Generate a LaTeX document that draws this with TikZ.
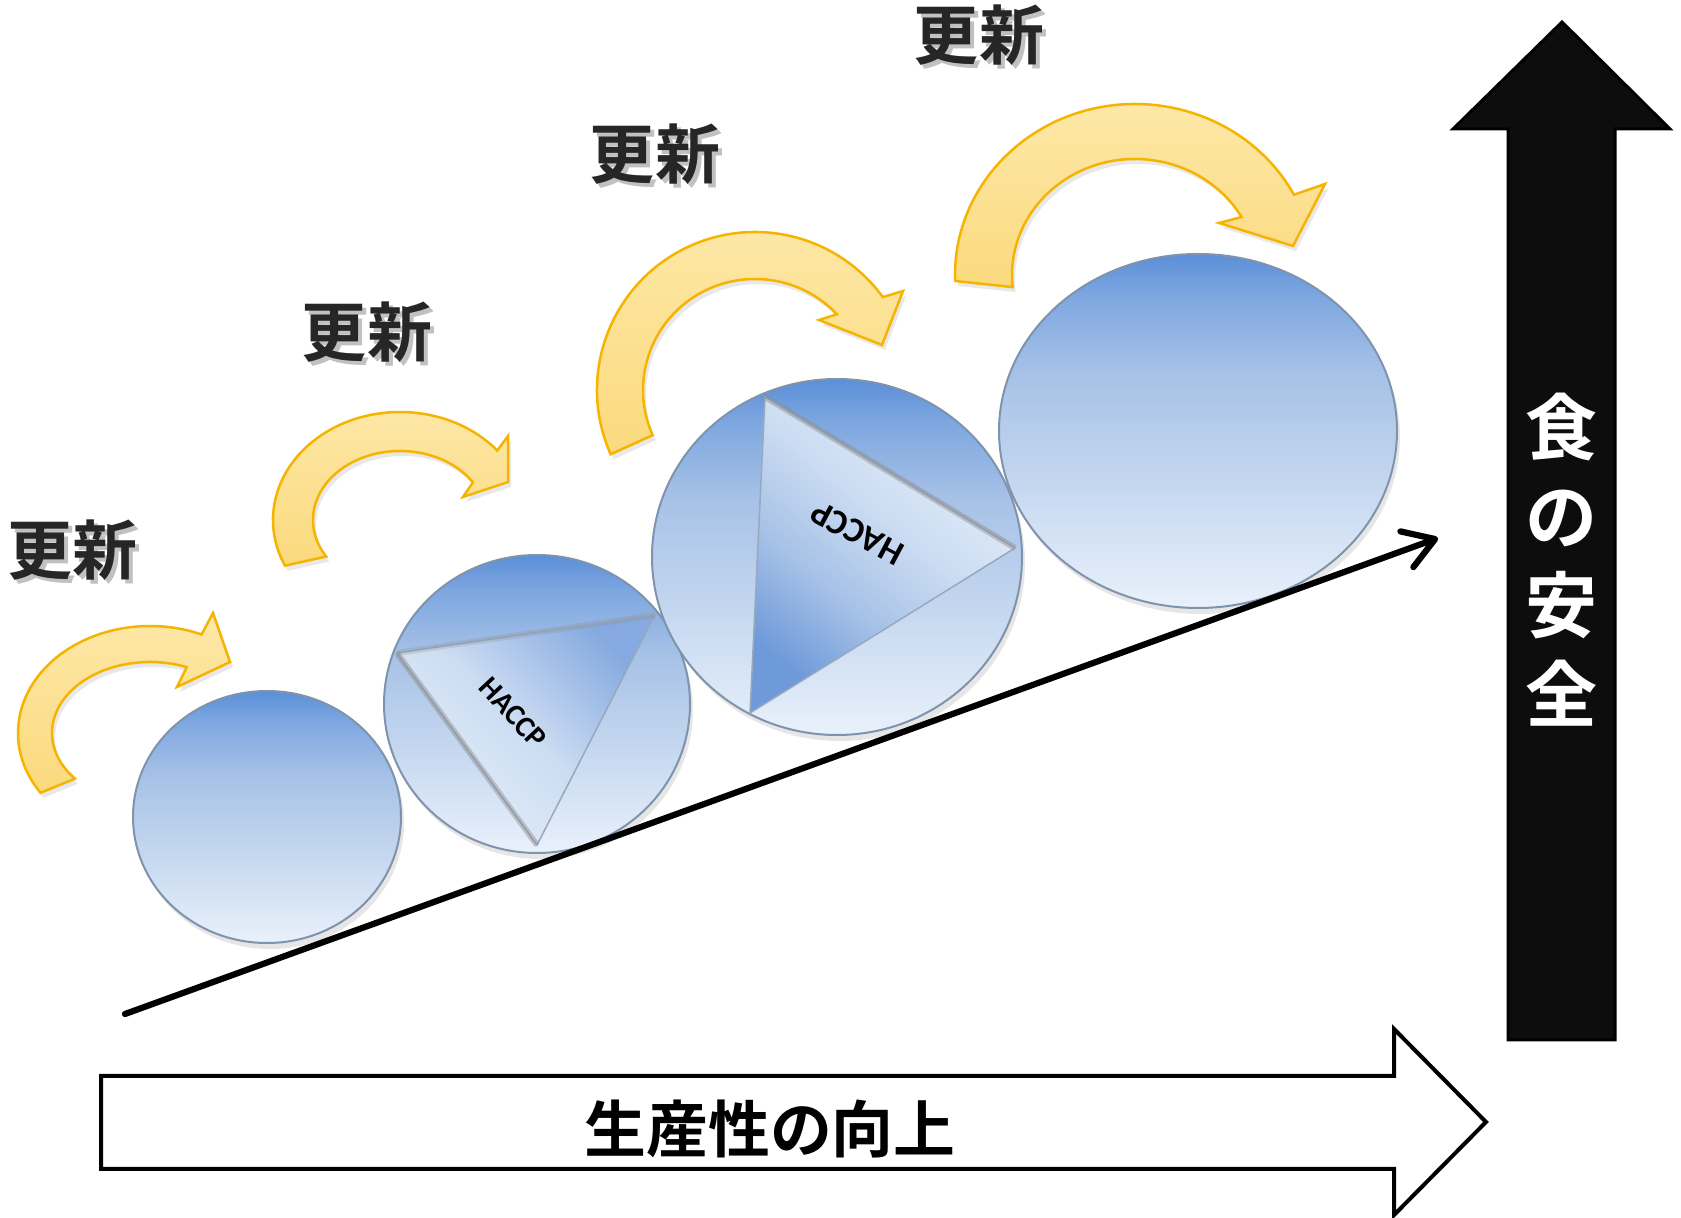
\documentclass[tikz,border=0pt]{standalone}
\usepackage{fontspec}
\newfontfamily\jp[BoldFont={Noto Sans CJK JP Bold}]{Noto Sans CJK JP}
\newfontfamily\lat{Carlito}
\usetikzlibrary{arrows.meta,shadows,calc}
\definecolor{arrowedge}{HTML}{F5B400}
\definecolor{arrowtop}{HTML}{FDE8A8}
\definecolor{arrowbot}{HTML}{FBDA7E}
\definecolor{bubA}{HTML}{5B8FD8}
\definecolor{bubB}{HTML}{7EA7E0}
\definecolor{bubC}{HTML}{A7C2E7}
\definecolor{bubD}{HTML}{C6D8F0}
\definecolor{bubE}{HTML}{E9F1FB}
\definecolor{bubedge}{HTML}{7F93AC}
\definecolor{trilight}{HTML}{E6EFFA}
\definecolor{trimid}{HTML}{CBDCF2}
\definecolor{tridark}{HTML}{6F9ADA}
\definecolor{blk}{HTML}{0D0D0D}
\definecolor{lbl}{HTML}{262626}
\pgfdeclareverticalshading{bubshade}{100bp}{color(0bp)=(bubE); color(25bp)=(bubE); color(42bp)=(bubD); color(58bp)=(bubC); color(69bp)=(bubB); color(75bp)=(bubA); color(100bp)=(bubA)}
\pgfdeclareverticalshading{trithree}{100bp}{color(0bp)=(tridark); color(25bp)=(tridark); color(40bp)=(bubC); color(55bp)=(trimid); color(75bp)=(trilight); color(100bp)=(trilight)}
\begin{document}
\begin{tikzpicture}[x=0.1mm,y=-0.1mm,
  yarrow/.style={draw=arrowedge, line width=0.25mm, line join=miter,
    top color=arrowtop, bottom color=arrowbot,
    drop shadow={shadow xshift=0.3mm, shadow yshift=-0.5mm, opacity=0.18}},
  bubble/.style={draw=bubedge, line width=0.2mm, shading=bubshade,
    drop shadow={shadow xshift=0.3mm, shadow yshift=-0.6mm, opacity=0.2}},
  tri/.style={draw=bubedge!80, line width=0.15mm},
  trishade/.style={line width=0.6mm, draw=black!45, opacity=0.45},
  upd/.style={font=\jp\bfseries\fontsize{18.5pt}{20pt}\selectfont, text=lbl, inner sep=0pt},
  updsh/.style={font=\jp\bfseries\fontsize{18.5pt}{20pt}\selectfont, text=black!35, inner sep=0pt, opacity=0.7},
  haccp/.style={font=\lat\bfseries\fontsize{8.5pt}{9pt}\selectfont, text=black, inner sep=0pt}
]
\useasboundingbox (0,0) rectangle (1681,1218);

% yellow curved arrows (elliptic bands with heads)
\coordinate (c1) at (150,733);
\path[yarrow] ($(c1)+(146:132 and 107)$) arc[start angle=146, end angle=293, x radius=132, y radius=107]
  -- (213,613) -- (230,662) -- (177,687) -- ($(c1)+(292:98 and 71)$)
  arc[start angle=292, end angle=140, x radius=98, y radius=71] -- cycle;
\coordinate (c2) at (400,520);
\path[yarrow] ($(c2)+(155:127 and 108)$) arc[start angle=155, end angle=320, x radius=127, y radius=108]
  -- (508,436) -- (508,482) -- (463,497) -- ($(c2)+(327:87 and 69)$)
  arc[start angle=327, end angle=148, x radius=87, y radius=69] -- cycle;
\coordinate (c3) at (755,390);
\path[yarrow] ($(c3)+(156:158 and 158)$) arc[start angle=156, end angle=324, x radius=158, y radius=158]
  -- (903,291) -- (882,345) -- (819,320) -- ($(c3)+(317:112 and 111)$)
  arc[start angle=317, end angle=156, x radius=112, y radius=111] -- cycle;
\coordinate (c4) at (1135,275);
\path[yarrow] ($(c4)+(178:180 and 171)$) arc[start angle=178, end angle=332, x radius=180, y radius=171]
  -- (1325,184) -- (1293,246) -- (1219,223) -- ($(c4)+(330:123 and 116)$)
  arc[start angle=330, end angle=174, x radius=123, y radius=116] -- cycle;

% bubbles
\path[bubble] (267,817) ellipse [x radius=134, y radius=126];
\path[bubble] (537,704) ellipse [x radius=153, y radius=149];
\path[bubble] (837,557) ellipse [x radius=185, y radius=178];
\path[bubble] (1198,431) ellipse [x radius=199, y radius=177];

% triangles
\path[tri, top color=tridark!85, bottom color=trilight, middle color=trimid, shading angle=-45] (397,653) -- (655,615) -- (537,845) -- cycle;
\draw[trishade] (397,653) -- (537,845);
\draw[trishade, opacity=0.25] (397,653) -- (655,615);
\node[haccp, rotate=-47] (h1) at (513,713) {HACCP};

\path[tri, shading=trithree, shading angle=-40] (765,397) -- (1015,548) -- (750,713) -- cycle;
\draw[trishade] (765,397) -- (1015,548);
\node[haccp, font=\lat\bfseries\fontsize{10pt}{11pt}\selectfont, rotate=152] (h2) at (857,533) {HACCP};

% rising line
\coordinate (ls) at (125,1014);
\coordinate (le) at (1438,538);
\draw[line width=0.62mm, line cap=round, -{Straight Barb[length=3mm, width=3.8mm, round]}] (ls) -- (le);

% update labels
\node[updsh] (s1) at (77,554) {更新};
\node[upd] (u1) at (73,550) {更新};
\node[updsh] (s2) at (371,336) {更新};
\node[upd] (u2) at (367,332) {更新};
\node[updsh] (s3) at (659,158) {更新};
\node[upd] (u3) at (655,154) {更新};
\node[updsh] (s4) at (983,39) {更新};
\node[upd] (u4) at (979,35) {更新};

% productivity arrow
\draw[line width=0.4mm, fill=white, line join=miter] (101,1076) -- (1394,1076) -- (1394,1029) -- (1486,1122) -- (1394,1215) -- (1394,1169) -- (101,1169) -- cycle;
\node[font=\jp\bfseries\fontsize{17.6pt}{19pt}\selectfont, inner sep=0pt] (prod) at (770,1129) {生産性の向上};

% food safety arrow
\draw[fill=blk, draw=black, line width=0.3mm, line join=miter] (1508,1040) -- (1508,129) -- (1453,129) -- (1562,22) -- (1670,129) -- (1615,129) -- (1615,1040) -- cycle;
\node[font=\jp\bfseries\fontsize{20.5pt}{25.3pt}\selectfont, text=white, align=center, inner sep=0pt] (safe) at (1562,560) {食\\の\\安\\全};
\end{tikzpicture}
\end{document}
